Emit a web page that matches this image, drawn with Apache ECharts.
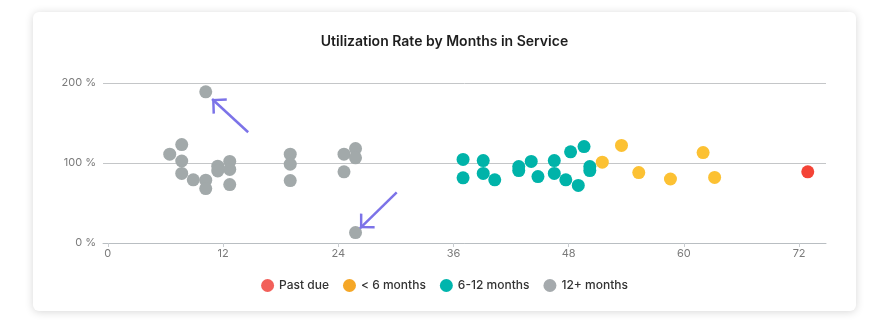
<!DOCTYPE html>
<html>
<head>
<meta charset="utf-8">
<script src="https://cdn.jsdelivr.net/npm/echarts@6/dist/echarts.min.js"></script>
<style>
  html, body { margin: 0; padding: 0; background: #ffffff; width: 889px; height: 323px; overflow: hidden; }
  #card { position: absolute; left: 33px; top: 12px; width: 823px; height: 299px; background: #fff;
          border-radius: 6px; box-shadow: 0 1px 8px rgba(0,0,0,0.16); }
  #chart { position: absolute; left: 0; top: 0; width: 889px; height: 323px; }
</style>
</head>
<body>
<div id="card"></div>
<div id="chart"></div>
<script>
// ---- data (months in service, utilization %) ----
const titleText = 'Utilization Rate by Months in Service';
const seriesNames = ['Past due', '< 6 months', '6-12 months', '12+ months'];
const xTicks = [0, 12, 24, 36, 48, 60, 72];
const yTicks = [0, 100, 200];

const pastDue = [[72.9, 89]];
const lessThan6 = [[51.5, 101], [53.5, 122], [55.3, 88], [58.6, 80], [62.0, 113], [63.2, 82]];
const sixTo12 = [
  [37.0, 104.5], [37.0, 81.5], [39.1, 103], [39.1, 87], [40.3, 79],
  [42.8, 95.5], [42.8, 90.5], [44.1, 102], [44.8, 83], [46.5, 103], [46.5, 87],
  [47.7, 79], [48.2, 114], [49.0, 72], [49.6, 120.5], [50.2, 95.5], [50.2, 90.5]
];
const twelvePlus = [
  [6.45, 111], [7.7, 123], [7.7, 102.5], [7.7, 87], [8.9, 79],
  [10.2, 189], [10.2, 78.5], [10.2, 68], [11.45, 96], [11.45, 90],
  [12.7, 102], [12.7, 92], [12.7, 73],
  [19.0, 111], [19.0, 98.5], [19.0, 78],
  [24.6, 111], [24.6, 89], [25.8, 118], [25.8, 106.5], [25.8, 13]
];
// annotation arrows: [tailX, tailY, tipX, tipY] in data units
const arrows = [[14.62, 138.4, 10.86, 180], [30.09, 63.4, 26.26, 18.4]];

// ---- styling ----
const pointColors = ['#f44336', '#fcc133', '#00b3a9', '#a2a9aa'];
const legendColors = ['#f2605a', '#f5a727', '#00b5ad', '#a5aaad'];
const FONT = 'Inter, "Noto Sans", sans-serif';
const chevron = 'path://M0,10.6 L10.6,0 L21.2,10.6 L19.4,12.4 L10.6,3.5 L1.8,12.4 Z';

const chart = echarts.init(document.getElementById('chart'), null, { renderer: 'canvas' });
const dataSets = [pastDue, lessThan6, sixTo12, twelvePlus];

const series = seriesNames.map((name, i) => {
  const s = {
    name: name,
    type: 'scatter',
    data: dataSets[i],
    symbol: 'circle',
    symbolSize: 13,
    itemStyle: { color: pointColors[i], opacity: 1 },
    emphasis: { disabled: true },
    z: 3
  };
  if (i === 3) {
    s.markLine = {
      silent: true,
      symbol: ['none', chevron],
      symbolSize: [21, 12],
      symbolOffset: [[0, 0], [0, 6]],
      label: { show: false },
      lineStyle: { color: '#7c73e8', width: 2.5, type: 'solid', opacity: 1 },
      emphasis: { disabled: true },
      animation: false,
      data: arrows.map(a => [{ coord: [a[0], a[1]] }, { coord: [a[2], a[3]] }])
    };
  }
  return s;
});

chart.setOption({
  animation: false,
  backgroundColor: 'transparent',
  title: {
    text: titleText,
    left: 'center',
    top: 30,
    textStyle: { fontFamily: FONT, fontSize: 14, fontWeight: 600, color: '#1e1e1e' }
  },
  legend: {
    bottom: 26,
    left: 'center',
    icon: 'circle',
    itemWidth: 13,
    itemHeight: 13,
    itemGap: 14,
    textStyle: { fontFamily: FONT, fontSize: 12, fontWeight: 500, color: '#333' },
    data: seriesNames.map((n, i) => ({ name: n, itemStyle: { color: legendColors[i] } }))
  },
  grid: { left: 103, right: 63, top: 83, bottom: 80, containLabel: false },
  xAxis: {
    type: 'value',
    min: -0.5,
    max: 74.8,
    splitLine: { show: false },
    axisLine: { show: true, lineStyle: { color: '#b9bec2', width: 1 } },
    axisTick: { show: true, customValues: xTicks, length: 4, lineStyle: { color: '#c8ccd0' } },
    axisLabel: { customValues: xTicks, color: '#7a7a7a', fontFamily: FONT, fontSize: 11, margin: 5,
                 formatter: v => String(Math.round(v)) }
  },
  yAxis: {
    type: 'value',
    min: 0,
    max: 200,
    interval: 100,
    axisLine: { show: false },
    axisTick: { show: false },
    splitLine: { show: true, lineStyle: { color: '#c4c6c8', width: 1 } },
    axisLabel: { color: '#7a7a7a', fontFamily: FONT, fontSize: 11, margin: 7,
                 formatter: v => (yTicks.indexOf(v) >= 0 ? v + ' %' : '') }
  },
  series: series
});
</script>
</body>
</html>
